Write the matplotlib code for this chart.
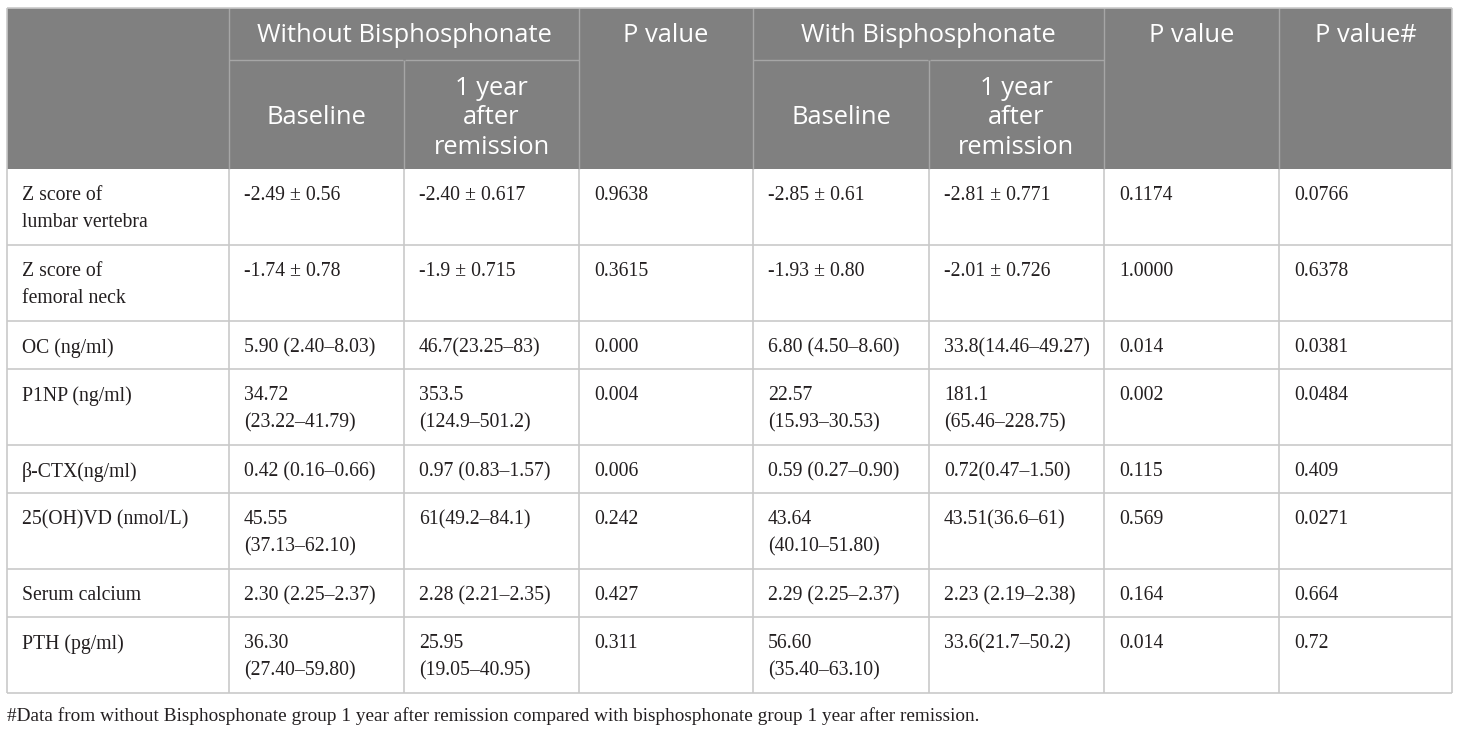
import matplotlib
matplotlib.use("Agg")
import matplotlib.pyplot as plt
from matplotlib.patches import Rectangle

# table content
group_headers = ["Without Bisphosphonate", "With Bisphosphonate"]
sub_headers = ["Baseline", "1 year\nafter\nremission"]
pval_headers = ["P value", "P value", "P value#"]

row_labels = [
    "Z score of\nlumbar vertebra",
    "Z score of\nfemoral neck",
    "OC (ng/ml)",
    "P1NP (ng/ml)",
    "\u03b2-CTX(ng/ml)",
    "25(OH)VD (nmol/L)",
    "Serum calcium",
    "PTH (pg/ml)",
]
without_baseline = [
    "-2.49 \u00b1 0.56", "-1.74 \u00b1 0.78", "5.90 (2.40\u20138.03)",
    "34.72\n(23.22\u201341.79)", "0.42 (0.16\u20130.66)", "45.55\n(37.13\u201362.10)",
    "2.30 (2.25\u20132.37)", "36.30\n(27.40\u201359.80)",
]
without_1year = [
    "-2.40 \u00b1 0.617", "-1.9 \u00b1 0.715", "46.7(23.25\u201383)",
    "353.5\n(124.9\u2013501.2)", "0.97 (0.83\u20131.57)", "61(49.2\u201384.1)",
    "2.28 (2.21\u20132.35)", "25.95\n(19.05\u201340.95)",
]
p_without = ["0.9638", "0.3615", "0.000", "0.004", "0.006", "0.242", "0.427", "0.311"]
with_baseline = [
    "-2.85 \u00b1 0.61", "-1.93 \u00b1 0.80", "6.80 (4.50\u20138.60)",
    "22.57\n(15.93\u201330.53)", "0.59 (0.27\u20130.90)", "43.64\n(40.10\u201351.80)",
    "2.29 (2.25\u20132.37)", "56.60\n(35.40\u201363.10)",
]
with_1year = [
    "-2.81 \u00b1 0.771", "-2.01 \u00b1 0.726", "33.8(14.46\u201349.27)",
    "181.1\n(65.46\u2013228.75)", "0.72(0.47\u20131.50)", "43.51(36.6\u201361)",
    "2.23 (2.19\u20132.38)", "33.6(21.7\u201350.2)",
]
p_with = ["0.1174", "1.0000", "0.014", "0.002", "0.115", "0.569", "0.164", "0.014"]
p_between = ["0.0766", "0.6378", "0.0381", "0.0484", "0.409", "0.0271", "0.664", "0.72"]

footnote = ("#Data from without Bisphosphonate group 1 year after remission "
            "compared with bisphosphonate group 1 year after remission.")

# layout in pixels
W, H = 1460, 731
col_x = [7, 229, 404, 579, 753, 929, 1104, 1279, 1452]
head_top, head_mid, head_bot = 8, 60, 169
row_y = [169, 245, 321, 369, 445, 493, 569, 617, 693]

HEAD_BG = "#808080"
HEAD_LINE = "#a6a6a6"
GRID = "#c9c9c9"
TXT = "#231f20"
head_font = dict(family="Open Sans", fontsize=18.4, color="white")
body_font = dict(family="Liberation Serif", fontsize=14.2, color=TXT)

fig = plt.figure(figsize=(W / 100, H / 100), dpi=100)
ax = fig.add_axes([0, 0, 1, 1])
ax.set_xlim(0, W)
ax.set_ylim(H, 0)
ax.axis("off")

# header block
ax.add_patch(Rectangle((col_x[0], head_top), col_x[-1] - col_x[0], head_bot - head_top,
                       facecolor=HEAD_BG, edgecolor="none"))
for x in col_x[1:-1]:
    ax.vlines(x, head_top, head_bot, color=HEAD_LINE, lw=1)
ax.hlines(head_mid, col_x[1], col_x[3], color=HEAD_LINE, lw=1)
ax.hlines(head_mid, col_x[4], col_x[6], color=HEAD_LINE, lw=1)
ax.vlines([col_x[2], col_x[5]], head_top, head_mid, color=HEAD_BG, lw=2)

# header texts
for g, (a, b) in zip(group_headers, [(1, 3), (4, 6)]):
    ax.text((col_x[a] + col_x[b]) / 2, 36, g, ha="center", va="center", **head_font)
for start in (1, 4):
    for k, s in enumerate(sub_headers):
        c = start + k
        ax.text((col_x[c] + col_x[c + 1]) / 2, 118, s, ha="center", va="center",
                linespacing=1.26, **head_font)
for c, s in zip((3, 6, 7), pval_headers):
    ax.text((col_x[c] + col_x[c + 1]) / 2, 36, s, ha="center", va="center", **head_font)

# body grid
ax.hlines(row_y[1:], col_x[0], col_x[-1], color=GRID, lw=1.2)
ax.vlines(col_x, head_bot, row_y[-1], color=GRID, lw=1.2)
ax.hlines(head_top, col_x[0], col_x[-1], color=GRID, lw=1.2)
ax.vlines([col_x[0], col_x[-1]], head_top, head_bot, color=GRID, lw=1.2)

columns = [row_labels, without_baseline, without_1year, p_without,
           with_baseline, with_1year, p_with, p_between]
for c, values in enumerate(columns):
    for r, s in enumerate(values):
        ax.text(col_x[c] + 15, row_y[r] + 17, s, ha="left", va="top",
                linespacing=1.58, **body_font)

ax.text(col_x[0], 716, footnote, ha="left", va="center",
        family="Liberation Serif", fontsize=13.9, color=TXT)

fig.savefig("out.png", dpi=100, facecolor="white")
